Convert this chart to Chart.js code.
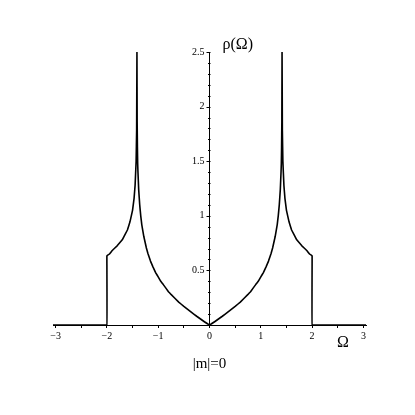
<!DOCTYPE html>
<html>
<head>
<meta charset="utf-8">
<script src="https://cdn.jsdelivr.net/npm/chart.js@4"></script>
<style>
  html, body { margin: 0; padding: 0; background: #fff; }
</style>
</head>
<body>
<canvas id="myChart" width="415" height="415"></canvas>
<script>
// values: Omega and rho(Omega), |m| = 0
const omega = [-3.05, -2.0, -2.0, -1.95, -1.9, -1.8, -1.7, -1.6, -1.55, -1.5, -1.47, -1.45, -1.43, -1.42, -1.414,
  -1.41, -1.405, -1.40, -1.395, -1.38, -1.36, -1.34, -1.32, -1.28, -1.23, -1.2, -1.15, -1.1, -1.05, -1.00, -0.95, -0.90, -0.80, -0.75, -0.60, -0.50, -0.35, -0.25, -0.10, 0,
  0.10, 0.25, 0.35, 0.50, 0.60, 0.75, 0.80, 0.90, 0.95, 1.00, 1.05, 1.1, 1.15, 1.2, 1.23, 1.28, 1.32, 1.34, 1.36, 1.38, 1.395, 1.40, 1.405, 1.41,
  1.414, 1.42, 1.43, 1.45, 1.47, 1.5, 1.55, 1.6, 1.7, 1.8, 1.9, 1.95, 2.0, 2.0, 3.05];
const rho = [0, 0, 0.635, 0.65, 0.68, 0.725, 0.78, 0.87, 0.945, 1.05, 1.16, 1.28, 1.50, 1.78, 2.5,
  1.86, 1.63, 1.48, 1.41, 1.24, 1.10, 1.00, 0.92, 0.81, 0.705, 0.655, 0.585, 0.53, 0.48, 0.44, 0.40, 0.37, 0.305, 0.28, 0.21, 0.17, 0.115, 0.08, 0.03, 0,
  0.03, 0.08, 0.115, 0.17, 0.21, 0.28, 0.305, 0.37, 0.40, 0.44, 0.48, 0.53, 0.585, 0.655, 0.705, 0.81, 0.92, 1.00, 1.10, 1.24, 1.41, 1.48, 1.63, 1.86,
  2.5, 1.78, 1.50, 1.28, 1.16, 1.05, 0.945, 0.87, 0.78, 0.725, 0.68, 0.65, 0.635, 0, 0];

const xTicks = [-3, -2.5, -2, -1.5, -1, -0.5, 0, 0.5, 1, 1.5, 2, 2.5, 3];
const xLabels = [-3, -2, -1, 0, 1, 2, 3];
const yTicks = [0, 0.1, 0.2, 0.3, 0.4, 0.5, 0.6, 0.7, 0.8, 0.9, 1, 1.1, 1.2, 1.3, 1.4, 1.5,
  1.6, 1.7, 1.8, 1.9, 2, 2.1, 2.2, 2.3, 2.4, 2.5];
const yLabels = [0.5, 1, 1.5, 2, 2.5];

const serif = '"Liberation Serif", "DejaVu Serif", serif';

const has = (arr, v) => arr.some(a => Math.abs(a - v) < 1e-6);
const fmt = v => String(v).replace('-', '\u2212');

// y ticks + labels and the two axis names, placed with the chart's own scales
const axisText = {
  id: 'axisText',
  afterDraw(chart) {
    const c = chart.ctx, x = chart.scales.x, y = chart.scales.y;
    const x0 = Math.round(x.getPixelForValue(0)) + 0.5;
    c.save();
    c.strokeStyle = '#000';
    c.lineWidth = 1;
    c.beginPath();
    yTicks.forEach(v => {
      const py = Math.round(y.getPixelForValue(v)) + 0.5;
      c.moveTo(x0, py);
      c.lineTo(x0 - (has(yLabels, v) ? 4 : 2.5), py);
    });
    c.stroke();
    c.fillStyle = '#000';
    c.font = '10px ' + serif;
    c.textAlign = 'right';
    c.textBaseline = 'middle';
    yLabels.forEach(v => c.fillText(fmt(v), x0 - 6, y.getPixelForValue(v)));
    c.textAlign = 'center';
    c.font = '16px ' + serif;
    c.fillText('\u03C1(\u03A9)', x.getPixelForValue(0.55), y.getPixelForValue(2.57));
    c.fillText('\u03A9', x.getPixelForValue(2.6), y.getPixelForValue(0) + 18);
    c.restore();
  }
};

var ctx = document.querySelector('#myChart');
var myChart = new Chart(ctx, {
  type: 'line',
  data: {
    datasets: [{
      data: omega.map((o, i) => ({x: o, y: rho[i]})),
      borderColor: '#000',
      borderWidth: 1.6,
      borderJoinStyle: 'round',
      pointRadius: 0,
      tension: 0.01,
      fill: false
    }]
  },
  options: {
    responsive: false,
    animation: false,
    layout: { padding: { left: 53, right: 49, top: 52, bottom: 38 } },
    plugins: { legend: { display: false }, tooltip: { enabled: false } },
    scales: {
      x: {
        type: 'linear',
        position: 'bottom',
        min: -3.05,
        max: 3.05,
        afterBuildTicks: s => { s.ticks = xTicks.map(v => ({value: v})); },
        ticks: {
          autoSkip: false,
          maxRotation: 0,
          padding: 2,
          color: '#000',
          font: { family: serif, size: 10 },
          callback: v => has(xLabels, v) ? fmt(v) : ''
        },
        grid: { drawOnChartArea: false, tickLength: 3, color: '#000' },
        border: { color: '#000', width: 1 },
        title: { display: true, text: '|m|=0', color: '#000', font: { family: serif, size: 15 }, padding: { top: 11 } }
      },
      y: {
        type: 'linear',
        position: { x: 0 },
        min: 0,
        max: 2.5,
        afterBuildTicks: s => { s.ticks = yTicks.map(v => ({value: v})); },
        ticks: { autoSkip: false, padding: 0, font: { size: 1 }, callback: () => '' },
        grid: { drawOnChartArea: false, drawTicks: false },
        border: { color: '#000', width: 1 }
      }
    }
  },
  plugins: [axisText]
});
</script>
</body>
</html>
